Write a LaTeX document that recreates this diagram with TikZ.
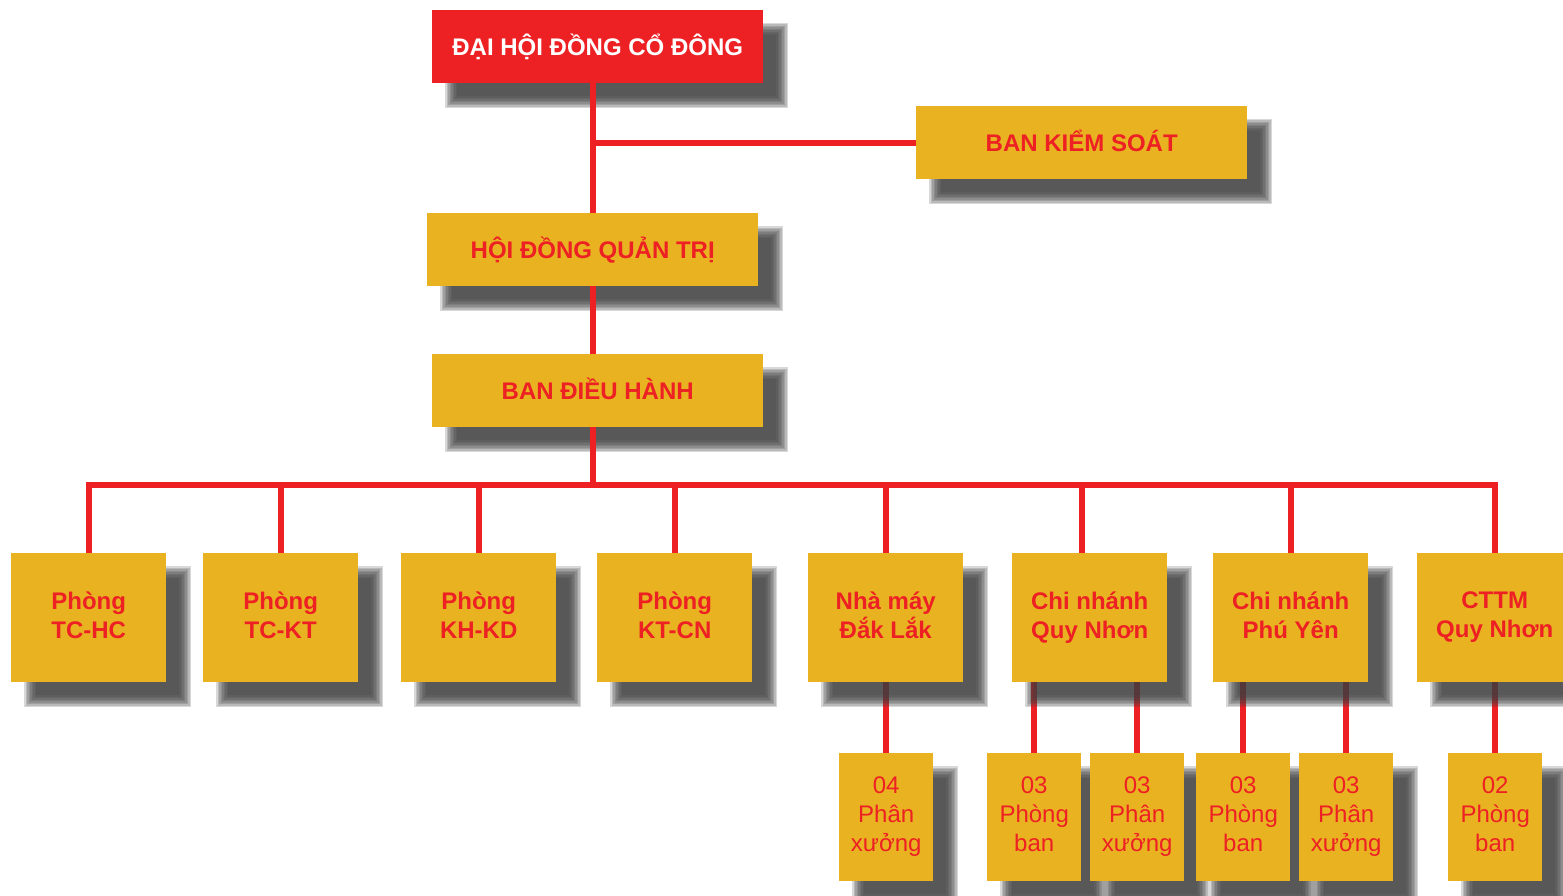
\documentclass[tikz,border=0pt]{standalone}
\usepackage{fontspec}
\setmainfont{Liberation Sans}
\definecolor{dred}{HTML}{ED2024}
\definecolor{dgold}{HTML}{E9B221}
\definecolor{shadowc}{HTML}{3E3E40}
\pgfdeclarelayer{low}
\pgfdeclarelayer{shade}
\pgfdeclarelayer{mid}
\pgfsetlayers{low,shade,mid,main}
\newcommand\linestrut{\rule[-6pt]{0pt}{29pt}}
\tikzset{
  basebox/.style={anchor=north west, inner sep=0pt, align=center,
    font=\fontsize{24}{29}\selectfont\bfseries,
    execute at begin node=\linestrut, execute at end node=\linestrut},
  topbox/.style={basebox, fill=dred, text=white, minimum width=331pt, minimum height=73pt},
  gbox/.style={basebox, fill=dgold, text=dred, minimum width=331pt, minimum height=73pt},
  midbox/.style={basebox, fill=dgold, text=dred, minimum width=155pt, minimum height=129pt},
  subbox/.style={basebox, fill=dgold, text=dred, minimum width=94pt, minimum height=128pt,
    font=\fontsize{24}{29}\selectfont},
  link/.style={draw=dred, line width=6pt},
}
\newcommand\boxshade[1]{%
  \foreach \e in {6,4.5,3,1.5,0,-1.5,-3,-4.5,-6}{%
    \fill[shadowc,opacity=0.2] ([shift={(19-\e,19-\e)}]#1.north west) rectangle ([shift={(19+\e,19+\e)}]#1.south east);}}
\begin{document}
\begin{tikzpicture}[x=1pt,y=-1pt]
\useasboundingbox (0,0) rectangle (1563,896);
% top boxes
\node[topbox] (dhd) at (432,10) {ĐẠI HỘI ĐỒNG CỔ ĐÔNG};
\node[gbox] (bks) at (916,106) {BAN KIỂM SOÁT};
\node[gbox] (hdqt) at (427,213) {HỘI ĐỒNG QUẢN TRỊ};
\node[gbox] (bdh) at (432,354) {BAN ĐIỀU HÀNH};
% middle row
\node[midbox] (m1) at (11,553) {Phòng\\TC-HC};
\node[midbox] (m2) at (203,553) {Phòng\\TC-KT};
\node[midbox] (m3) at (401,553) {Phòng\\KH-KD};
\node[midbox] (m4) at (597,553) {Phòng\\KT-CN};
\node[midbox] (m5) at (808,553) {Nhà máy\\Đắk Lắk};
\node[midbox] (m6) at (1012,553) {Chi nhánh\\Quy Nhơn};
\node[midbox] (m7) at (1213,553) {Chi nhánh\\Phú Yên};
\node[midbox] (m8) at (1417,553) {CTTM\\Quy Nhơn};
% sub row
\node[subbox] (s1) at (839,753) {04\\Phân\\xưởng};
\node[subbox] (s2) at (987,753) {03\\Phòng\\ban};
\node[subbox] (s3) at (1090,753) {03\\Phân\\xưởng};
\node[subbox] (s4) at (1196,753) {03\\Phòng\\ban};
\node[subbox] (s5) at (1299,753) {03\\Phân\\xưởng};
\node[subbox] (s6) at (1448,753) {02\\Phòng\\ban};
\coordinate (trunk) at (593,0);
\coordinate (bus) at (593,485);
% shadows
\begin{pgfonlayer}{shade}
\foreach \n in {dhd,bks,hdqt,bdh,m1,m2,m3,m4,m5,m6,m7,m8,s1,s2,s3,s4,s5,s6}{\boxshade{\n}}
\end{pgfonlayer}
% upper connectors
\begin{pgfonlayer}{mid}
\draw[link] (dhd.south -| trunk) -- (hdqt.north -| trunk);
\draw[link] (bks.west) -- (bks.west -| trunk);
\draw[link] (hdqt.south -| trunk) -- (bdh.north -| trunk);
\draw[link] (bdh.south -| trunk) -- (bus);
\draw[link] (m1.north) -- (m1.north |- bus) -- (m8.north |- bus) -- (m8.north);
\foreach \m in {m2,m3,m4,m5,m7}{\draw[link] (\m.north) -- (\m.north |- bus);}
\draw[link] ([xshift=-8pt]m6.north) -- ([xshift=-8pt]m6.north |- bus);
\end{pgfonlayer}
% lower connectors
\begin{pgfonlayer}{low}
\draw[link] (m5.south -| s1.north) -- (s1.north);
\draw[link] (m6.south -| s2.north) -- (s2.north);
\draw[link] (m6.south -| s3.north) -- (s3.north);
\draw[link] (m7.south -| s4.north) -- (s4.north);
\draw[link] (m7.south -| s5.north) -- (s5.north);
\draw[link] (m8.south -| s6.north) -- (s6.north);
\end{pgfonlayer}
\end{tikzpicture}
\end{document}
